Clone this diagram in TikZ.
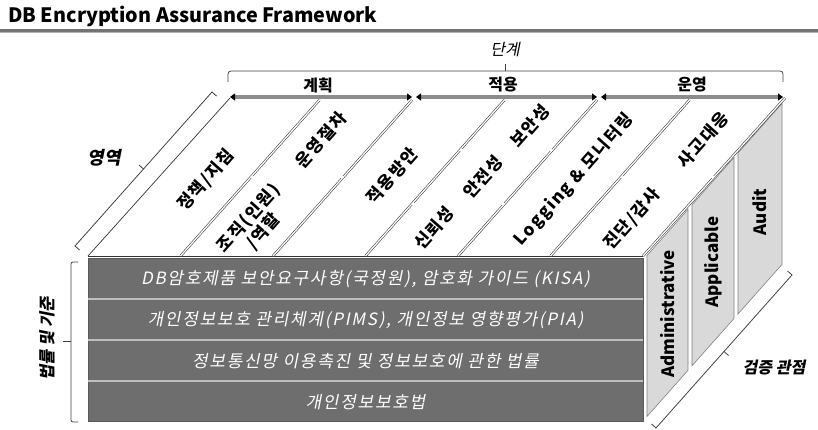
\documentclass[tikz,border=0pt]{standalone}
\usepackage{fontspec}
\setmainfont{Noto Sans CJK KR}
\newfontfamily\krit{Noto Sans CJK KR}[FakeSlant=0.2]
\newfontfamily\krsp{Noto Sans CJK KR}[LetterSpace=9]
\newfontfamily\kritsp{Noto Sans CJK KR}[FakeSlant=0.2, LetterSpace=10]
\usetikzlibrary{arrows.meta,calc}
\newcommand{\fsz}[1]{\fontsize{#1}{#1}\selectfont}
\begin{document}
\begin{tikzpicture}[x=1pt,y=-1pt,
  dl/.style={double=white, double distance=1.3pt, line width=0.55pt, draw=black!80},
  sl/.style={line width=0.7pt, draw=black!80},
  coltxt/.style={font=\krsp\bfseries\fontsize{17}{20}\selectfont, rotate=48.4, inner sep=0pt, align=center},
  bandtxt/.style={font=\kritsp\fsz{17}, text=white, inner sep=0pt},
  sidetxt/.style={font=\bfseries\fsz{17}, rotate=90, inner sep=0pt},
  phasetxt/.style={font=\bfseries\fsz{16}, inner sep=0pt},
  phase/.style={line width=4.5pt, draw=black!45, {Triangle[length=5pt,width=7pt,black]}-{Triangle[length=5pt,width=7pt,black]}},
  sep/.style={line width=2.2pt, draw=black!25},
  panel/.style={fill=black!15, draw=black!50, line width=0.6pt},
  brk/.style={line width=0.8pt, draw=black!75}
]
\useasboundingbox (0,0) rectangle (818,430);
% title
\node[anchor=west, font=\bfseries\fsz{19.8}, inner sep=0pt] (title) at (8,16) {DB Encryption Assurance Framework};
\draw[line width=2.2pt, black!55] (0,30.5) -- (818,30.5);
\draw[line width=0.8pt, black!30] (0,32.5) -- (818,32.5);

% front face
\fill[black!57] (88,258) rectangle (643,421);
\draw[black!65, line width=0.5pt] (88,258) rectangle (643,421);
\draw[sep] (88,299) -- (643,299);
\draw[sep] (88,340) -- (643,340);
\draw[sep] (88,381) -- (643,381);
\node[bandtxt] (b1) at (365.5,279.5) {DB암호제품 보안요구사항(국정원), 암호화 가이드 (KISA)};
\node[bandtxt] (b2) at (365.5,320.5) {개인정보보호 관리체계(PIMS), 개인정보 영향평가(PIA)};
\node[bandtxt] (b3) at (365.5,361.5) {정보통신망 이용촉진 및 정보보호에 관한 법률};
\node[bandtxt] (b4) at (365.5,402) {개인정보보호법};

% right face panels
\draw[panel] (647,255.5) -- (688,209.3) -- (688,370.3) -- (647,416.5) -- cycle;
\draw[panel] (692,204.8) -- (734,157.5) -- (734,318.5) -- (692,365.8) -- cycle;
\draw[panel] (738,153) -- (782,103.4) -- (782,264.4) -- (738,314) -- cycle;
\node[sidetxt] (adm) at (667.5,314) {Administrative};
\node[sidetxt] (app) at (713,262) {Applicable};
\node[sidetxt] (aud) at (760,212) {Audit};

% top face
\draw[sl] (88,256) -- (643,256);
\draw[sl] (88,256) -- (230,98);
\draw[dl] (643,256) -- (785,98);
\foreach \x in {180.5,273,365.5,458,550.5}{
  \draw[dl] (\x,256) -- ({\x+139},100);
}
\draw[dl] (251,177) -- (344,177);
\draw[dl] (460,150) -- (553,150);
\draw[dl] (412,204) -- (505,204);
\draw[dl] (621,177) -- (714,177);

% phase arrows
\draw[phase] (230,97) -- (412,97);
\draw[phase] (416,97) -- (597,97);
\draw[phase] (601,97) -- (783,97);
\node[phasetxt] (p1) at (318,85) {계획};
\node[phasetxt] (p2) at (503,85) {적용};
\node[phasetxt] (p3) at (692,85) {운영};

% column texts
\node[coltxt] (c1) at (206,180) {정책/지침};
\node[coltxt] (c2a) at (321,140) {운영절차};
\node[coltxt] (c2b) at (256,225) {조직(인원)\\/역할};
\node[coltxt] (c3) at (392,176) {적용방안};
\node[coltxt] (c4a) at (530,126) {보안성};
\node[coltxt] (c4b) at (483,177) {안전성};
\node[coltxt] (c4c) at (434,228) {신뢰성};
\node[coltxt] (c5) at (574,180) {Logging \& 모니터링};
\node[coltxt] (c6a) at (703,140) {사고대응};
\node[coltxt] (c6b) at (632,219) {진단/감사};

% bracket: 단계
\draw[brk, rounded corners=3pt] (228,82) -- (228,71) -- (783,71) -- (783,82);
\coordinate (tk1) at (505,71);
\node[font=\krit\fsz{16}, inner sep=0pt] (stage) at (505,50) {단계};
\draw[brk] (tk1) -- ++(0,-7);

% bracket: 영역
\coordinate (ya) at (75,246);
\coordinate (yb) at (212,92);
\draw[brk] ($(ya)+(4.5,4)$) -- (ya) -- (yb) -- ($(yb)+(4.5,4)$);
\draw[brk] ($(ya)!0.5!(yb)$) -- ++(-4.5,-4);
\node[font=\krit\bfseries\fsz{18}, inner sep=0pt] (area) at (104,158) {영역};

% bracket: 법률 및 기준
\draw[brk, rounded corners=2pt] (78,262) -- (71,262) -- (71,422) -- (78,422);
\draw[brk] (71,341) -- (63,341);
\node[font=\krit\bfseries\fsz{16.5}, rotate=90, inner sep=0pt] (law) at (47,339) {법률 및 기준};

% bracket: 검증 관점
\coordinate (va) at (656,428);
\coordinate (vb) at (792,275);
\draw[brk] ($(va)+(-4.5,-4)$) -- (va) -- (vb) -- ($(vb)+(-4.5,-4)$);
\draw[brk] ($(va)!0.5!(vb)$) -- ++(4.5,4);
\node[font=\krit\bfseries\fsz{16}, inner sep=0pt] (view) at (774,368) {검증 관점};
\end{tikzpicture}
\end{document}
